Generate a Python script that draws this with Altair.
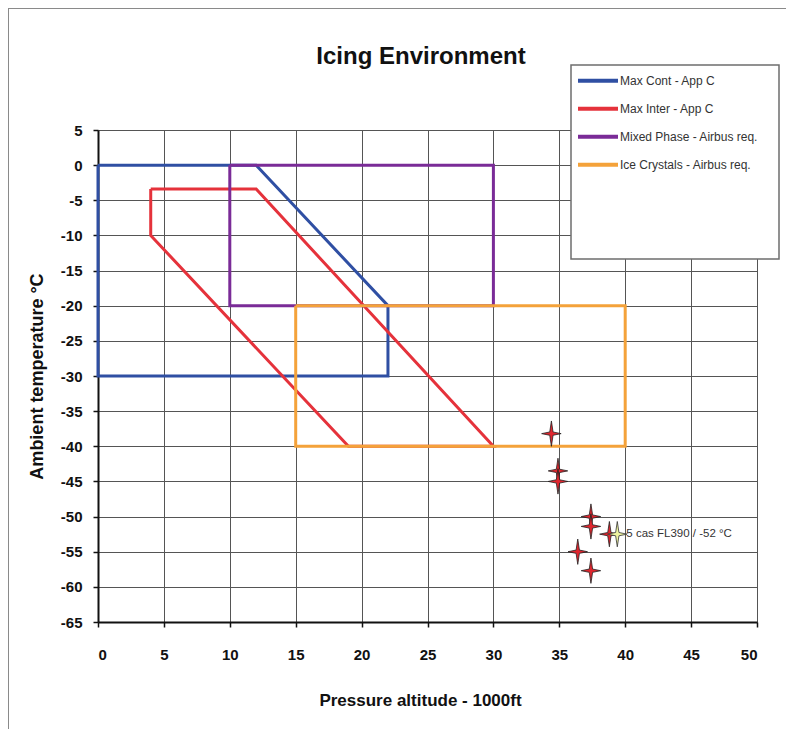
import altair as alt
import pandas as pd

# ---- data ----
series_names = ["Max Cont - App C", "Max Inter - App C",
                "Mixed Phase - Airbus req.", "Ice Crystals - Airbus req."]
series_colors = ["#2F4FA3", "#E5323B", "#7A2B97", "#F4A23A"]

blue_x = [0, 12, 22, 22, 0, 0]
blue_y = [0, 0, -20, -30, -30, 0]
red_x = [4, 12, 30, 19, 4, 4]
red_y = [-3.4, -3.4, -40, -40, -10, -3.4]
purple_x = [10, 30, 30, 10, 10]
purple_y = [0, 0, -20, -20, 0]
orange_x = [15, 40, 40, 15, 15]
orange_y = [-20, -20, -40, -40, -20]

star_x = [34.4, 34.9, 34.9, 37.4, 37.4, 38.8, 36.4, 37.4]
star_y = [-38.2, -43.5, -45.0, -50.0, -51.4, -52.5, -55.0, -57.7]
hl_x = [39.4]
hl_y = [-52.5]
hl_label = ["5 cas FL390 / -52 °C"]

chart_title = ["Icing Environment"]

x_ticks = list(range(0, 51, 5))
y_ticks = list(range(-65, 6, 5))

# ---- tables ----
rows = []
for name, xs, ys in zip(series_names,
                        [blue_x, red_x, purple_x, orange_x],
                        [blue_y, red_y, purple_y, orange_y]):
    for i, (a, b) in enumerate(zip(xs, ys)):
        rows.append({"series": name, "x": a, "y": b, "ord": i})
poly = pd.DataFrame(rows)
stars = pd.DataFrame({"x": star_x, "y": star_y})
hl = pd.DataFrame({"x": hl_x, "y": hl_y, "label": hl_label})

FONT = "Liberation Sans, Arial, sans-serif"
STAR = "M0,-1.3 L0.17,-0.17 L1,0 L0.17,0.17 L0,1.3 L-0.17,0.17 L-1,0 L-0.17,-0.17 Z"

xscale = alt.Scale(domain=[0, 50], nice=False)
yscale = alt.Scale(domain=[-65, 5], nice=False)

xaxis = alt.Axis(values=x_ticks, title="Pressure altitude - 1000ft",
                 titleX=322, titleY=78, titleAlign="center", titleBaseline="middle",
                 labelPadding=20, tickSize=5, labelOverlap=False,
                 labelExpr="'' + datum.value")
yaxis = alt.Axis(values=y_ticks, title="Ambient temperature °C",
                 titleX=-61, titleY=246, titleAngle=-90, titleAlign="center",
                 titleBaseline="middle", labelPadding=11, tickSize=5,
                 labelOverlap=False, labelExpr="'' + datum.value")

X = alt.X("x:Q", scale=xscale, axis=xaxis)
Y = alt.Y("y:Q", scale=yscale, axis=yaxis)

frame = alt.Chart(pd.DataFrame({"k": [0]})).mark_rect(
    fill=None, stroke="#8a8a8a", strokeWidth=2
).encode(x=alt.value(-90), x2=alt.value(1000), y=alt.value(-122), y2=alt.value(900))

title_text = alt.Chart(pd.DataFrame({"t": chart_title})).mark_text(
    font=FONT, fontSize=24, fontWeight="bold", color="#111111",
    align="center", baseline="middle"
).encode(x=alt.value(323), y=alt.value(-73), text="t:N")

legend_box = alt.Chart(pd.DataFrame({"k": [0]})).mark_rect(
    fill="white", stroke="#6e6e6e", strokeWidth=1.5
).encode(x=alt.value(473), x2=alt.value(681), y=alt.value(-65), y2=alt.value(129))

lines = alt.Chart(poly).mark_line(strokeWidth=3, strokeJoin="miter").encode(
    x=X,
    y=Y,
    color=alt.Color("series:N",
                    scale=alt.Scale(domain=series_names, range=series_colors),
                    legend=alt.Legend(orient="none", legendX=478, legendY=-63,
                                      title=None, symbolType="stroke",
                                      symbolSize=1600, symbolStrokeWidth=4,
                                      labelFont=FONT, labelFontSize=12,
                                      labelColor="#333333", rowPadding=0,
                                      clipHeight=27.5, labelOffset=0)),
    order="ord:Q",
    detail="series:N",
)

star_pts = alt.Chart(stars).mark_point(
    shape=STAR, filled=True, fill="#E0262E", stroke="#222222",
    strokeWidth=0.8, size=380, opacity=1
).encode(x=X, y=Y)

hl_pts = alt.Chart(hl).mark_point(
    shape=STAR, filled=True, fill="#EEF3A0", stroke="#333333",
    strokeWidth=0.8, size=380, opacity=1
).encode(x=X, y=Y)

hl_text = alt.Chart(hl).mark_text(
    align="left", baseline="middle", dx=9, font=FONT, fontSize=11.5, color="#333333"
).encode(x=X, y=Y, text="label:N")

chart = alt.layer(frame, title_text, lines, legend_box, star_pts, hl_pts, hl_text).properties(
    width=659, height=492,
    autosize=alt.AutoSizeParams(type="none"),
    padding={"left": 90, "top": 122, "right": 29, "bottom": 107},
).configure_view(stroke=None).configure_axis(
    grid=True, gridColor="#555555", gridWidth=1,
    domainColor="#111111", domainWidth=2,
    tickColor="#111111", tickWidth=1.5, labelOverlap=False,
    labelFont=FONT, labelFontSize=15, labelFontWeight="bold", labelColor="#111111",
    titleFont=FONT, titleFontSize=18, titleFontWeight="bold",
    titleColor="#111111",
).configure_axisX(titleFontSize=17)

chart.save("out.html", embed_options={"renderer": "svg", "actions": False})
